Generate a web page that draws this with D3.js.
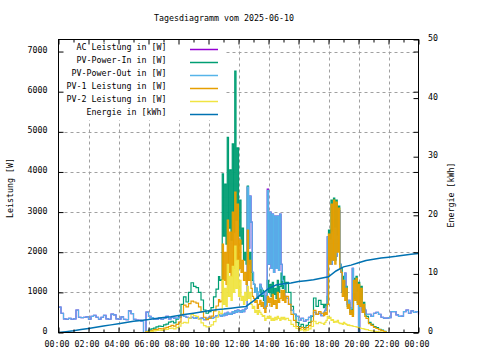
<!DOCTYPE html>
<html><head><meta charset="utf-8">
<script src="https://cdn.jsdelivr.net/npm/d3@7"></script>
<style>
body{margin:0;background:#fff}
svg{display:block}
text{font-family:"DejaVu Sans Mono",monospace;font-size:8.3px;fill:#000}
</style>
</head><body>
<svg id="c" width="480" height="360"></svg>
<script>
const title = "Tagesdiagramm vom 2025-06-10";
const yLabel = "Leistung [W]";
const y2Label = "Energie [kWh]";
const seriesNames = ["AC Leistung in [W]","PV-Power-In in [W]","PV-Power-Out in [W]","PV-1 Leistung in [W]","PV-2 Leistung in [W]","Energie in [kWh]"];
const seriesColors = ["#9400d3","#009e73","#56b4e9","#e69f00","#f0e442","#0072b2"];
const xTickMinutes = [0,120,240,360,480,600,720,840,960,1080,1200,1320,1440];
const xTickLabels = ["00:00","02:00","04:00","06:00","08:00","10:00","12:00","14:00","16:00","18:00","20:00","22:00","00:00"];
const yTicks = [0,1000,2000,3000,4000,5000,6000,7000];
const y2Ticks = [0,10,20,30,40,50];

// sample times (minutes after midnight): 10-min steps, 5-min steps in the busy periods
const sampleMinutes = [
  ...d3.range(0, 640, 10),      // 00:00-10:30
  ...d3.range(640, 915, 5),     // 10:40-15:10
  ...d3.range(920, 1060, 10),   // 15:20-17:30
  ...d3.range(1060, 1235, 5),   // 17:40-20:30
  ...d3.range(1240, 1441, 10)   // 20:40-24:00
];

const pvPowerOut = [
630,480,340,330,350,330,340,560,380,370,380,390,
330,400,430,380,330,380,430,340,330,460,440,340,
330,390,330,320,540,470,330,310,300,280,0,510,
400,370,340,330,360,330,360,400,340,380,360,350,
380,440,400,380,360,380,350,370,340,360,320,350,
380,350,380,420,
440,420,400,450,420,480,440,500,460,480,450,520,480,540,500,560,520,540,500,560,
520,580,600,3620,2100,3400,2750,1500,1200,1000,1100,900,1000,1200,1100,950,1000,600,900,3540,
1700,3000,1600,2950,1500,2900,1600,2900,1550,2950,1700,1300,1200,900,850,
700,550,450,400,300,350,280,320,380,420,500,450,480,420,
500,550,650,2380,1900,2300,1700,2500,1800,2600,1900,2400,3040,1700,1500,1000,1300,1480,
900,700,800,500,600,1600,1000,1200,800,1000,0,700,800,500,600,560,450,
450,400,480,500,450,380,360,360,370,520,520,440,400,410,520,560,480,540,500,520,450];

const acLeistung = [
630,480,340,330,350,330,340,560,380,370,380,390,
330,400,430,380,330,380,430,340,330,460,440,340,
330,390,330,320,540,470,330,310,300,280,0,510,
400,370,340,330,360,330,360,400,340,380,360,350,
380,440,400,380,360,380,350,370,340,360,320,350,
380,350,380,420,
440,420,400,450,420,480,440,500,460,480,450,520,480,540,500,560,520,540,500,560,
520,580,600,3620,2100,3400,2750,1500,1200,1000,1100,900,1000,1200,1100,950,1000,600,900,3570,
1700,3000,1600,2950,1500,2900,1600,2900,1550,2950,1700,1300,1200,900,850,
700,550,450,400,300,350,280,320,380,420,500,450,480,420,
500,550,650,2380,1900,2300,1700,2500,1800,2600,1900,2400,3040,1700,1500,1000,1300,1480,
900,700,800,500,600,1600,1000,1200,800,1000,0,700,800,500,600,560,450,
450,400,480,500,450,380,360,360,370,520,520,440,400,410,520,560,480,540,500,520,450];

const pvPowerIn = [
0,0,0,0,0,0,0,0,0,0,0,0,
0,0,0,0,0,0,0,0,0,0,0,0,
0,0,0,0,0,0,0,0,0,0,0,30,
60,90,110,140,160,150,190,210,260,280,240,330,
420,700,890,760,1000,1240,1150,1120,1000,810,560,480,
520,620,890,1080,
1390,1300,1310,3950,2400,3700,2200,4860,2600,4050,2300,4700,2500,6510,2800,4600,2400,3300,2200,2600,
1800,2000,1700,3650,1700,2000,1500,1300,1200,1000,1100,850,1000,1150,900,1050,800,700,900,1300,
1000,1200,900,1250,950,1100,850,1300,1000,1150,1480,1100,1400,1000,1250,
1000,650,450,250,150,200,120,180,250,400,860,650,800,700,
620,700,650,900,2550,1800,3300,1900,3350,1800,3300,2100,3150,1700,1600,1000,1400,900,
1150,650,750,500,600,450,1350,850,1400,750,1250,700,1150,550,750,450,400,
250,200,150,120,80,60,30,0,0,0,0,0,0,0,0,0,0,0,0,0,0];

const pv1Leistung = [
0,0,0,0,0,0,0,0,0,0,0,0,
0,0,0,0,0,0,0,0,0,0,0,0,
0,0,0,0,0,0,0,0,0,0,0,20,
30,50,70,80,100,90,110,130,150,180,160,200,
260,450,680,640,720,780,760,730,640,520,380,320,
350,410,540,660,
820,760,780,2200,1300,2000,1200,2800,1500,2500,1400,3000,1600,3500,1800,3200,1600,2300,1500,1800,
1300,1500,1200,2550,1300,1800,1100,900,850,750,800,600,700,800,650,750,600,500,650,900,
750,850,650,950,700,800,600,1000,750,850,1050,800,1050,750,900,
700,450,300,150,100,130,80,120,170,280,550,450,520,480,
420,500,450,700,2450,1700,3200,1800,3300,1700,3250,2000,3100,1600,1500,900,1300,800,
1100,600,700,450,550,400,1300,800,1350,700,1200,650,1100,500,700,400,350,
220,180,130,100,70,50,25,0,0,0,0,0,0,0,0,0,0,0,0,0,0];

const pv2Leistung = [
0,0,0,0,0,0,0,0,0,0,0,0,
0,0,0,0,0,0,0,0,0,0,0,0,
0,0,0,0,0,0,0,0,0,0,0,10,
20,30,40,50,60,50,70,80,100,110,90,120,
160,230,250,240,360,450,420,400,330,240,170,140,
150,190,270,380,
520,480,470,1300,700,1100,650,1700,900,1400,800,1650,1000,2150,1100,1800,900,1300,800,900,
700,1000,800,1150,850,1000,700,600,650,500,550,450,550,500,450,400,420,300,350,400,
350,400,300,350,300,380,320,400,350,300,380,330,380,320,350,
300,200,150,100,60,70,40,60,90,150,280,220,250,230,
200,250,300,400,350,380,300,320,250,280,260,300,240,220,230,200,250,220,
200,180,190,170,170,160,150,150,140,130,120,110,100,95,90,80,70,
50,40,30,20,15,10,5,0,0,0,0,0,0,0,0,0,0,0,0,0,0];

// 30-minute samples 00:00 .. 24:00
const energyMinutes = d3.range(0, 1441, 30);
const energie = [
0,0.15,0.3,0.5,0.7,0.9,1.1,1.3,1.5,1.7,1.9,2.05,2.2,
2.4,2.55,2.7,2.9,3.1,3.3,3.5,3.7,3.9,4.0,4.15,4.3,
4.45,5.4,6.5,7.5,8.1,8.3,8.45,8.7,8.85,9.0,9.25,9.5,
10.5,11.2,11.5,11.9,12.3,12.5,12.7,12.85,13.0,13.2,13.35,13.5];

const L = 58.5, R = 418.5, T = 39.5, B = 332.5;
const svg = d3.select("#c");
const x = d3.scaleLinear().domain([0,1440]).range([L,R]);
const y = d3.scaleLinear().domain([0,7300]).range([B,T]);
const y2 = d3.scaleLinear().domain([0,50]).range([B,T]);

// grid
const grid = svg.append("g").attr("stroke","#a0a0a0").attr("stroke-width",1).attr("stroke-dasharray","3,3");
xTickMinutes.slice(1,-1).forEach(m=>{
  grid.append("line").attr("x1",Math.round(x(m))+0.5).attr("x2",Math.round(x(m))+0.5).attr("y1",T).attr("y2",B);
});
yTicks.slice(1).forEach(v=>{
  grid.append("line").attr("x1",L).attr("x2",R).attr("y1",Math.round(y(v))+0.5).attr("y2",Math.round(y(v))+0.5);
});

// legend background (opaque key)
svg.append("rect").attr("x",L+0.5).attr("y",T+0.5).attr("width",166).attr("height",80).attr("fill","#fff");

// data
const powerSeries = [acLeistung, pvPowerIn, pvPowerOut, pv1Leistung, pv2Leistung];
const plot = svg.append("g");
powerSeries.forEach((vals,i)=>{
  const ln = d3.line().curve(d3.curveStepAfter).x((d,j)=>x(sampleMinutes[j])).y(d=>y(d));
  plot.append("path")
    .attr("d", ln(vals))
    .attr("fill","none").attr("stroke",seriesColors[i]).attr("stroke-width",1.2);
});
plot.append("path")
  .attr("d", d3.line().x((d,j)=>x(energyMinutes[j])).y(d=>y2(d))(energie))
  .attr("fill","none").attr("stroke",seriesColors[5]).attr("stroke-width",1.5);

// axes
const ax = svg.append("g");
const gL = ax.append("g").attr("transform",`translate(${L},0)`)
  .call(d3.axisLeft(y).tickValues(yTicks).tickSize(-5).tickPadding(11).tickFormat(d3.format("d")));
ax.append("g").attr("transform",`translate(${R},0)`)
  .call(d3.axisLeft(y).tickValues(yTicks).tickSize(5).tickFormat(""));
const gR2 = ax.append("g").attr("transform",`translate(${R},0)`)
  .call(d3.axisRight(y2).tickValues(y2Ticks).tickSize(-5).tickPadding(10).tickFormat(d3.format("d")));
const gB = ax.append("g").attr("transform",`translate(0,${B})`)
  .call(d3.axisBottom(x).tickValues(xTickMinutes).tickSize(-5).tickFormat((d,i)=>xTickLabels[i]));
ax.append("g").attr("transform",`translate(0,${T})`)
  .call(d3.axisTop(x).tickValues(xTickMinutes).tickSize(-5).tickFormat(""));
const minorHours = d3.range(60,1440,120);
ax.append("g").attr("transform",`translate(0,${B})`)
  .call(d3.axisBottom(x).tickValues(minorHours).tickSize(-3).tickFormat(""));
ax.append("g").attr("transform",`translate(0,${T})`)
  .call(d3.axisTop(x).tickValues(minorHours).tickSize(-3).tickFormat(""));
ax.selectAll(".domain").remove();
ax.selectAll(".tick line").attr("stroke","#000");
ax.selectAll("text").attr("font-family",null).attr("font-size",null).attr("fill","#000");
gL.selectAll("text").attr("dy","1px");
gR2.selectAll("text").attr("dy","1px").attr("x",9.5);
gB.selectAll("text").attr("dy",null).attr("y",14.5).attr("x",-2);

// border
svg.append("rect").attr("x",L).attr("y",T).attr("width",R-L).attr("height",B-T)
  .attr("fill","none").attr("stroke","#000").attr("stroke-width",1);

// legend
const key = svg.append("g");
seriesNames.forEach((n,i)=>{
  const by = 50 + i*13;
  key.append("text").attr("x",166.5).attr("y",by).attr("text-anchor","end").text(n);
  key.append("line").attr("x1",190).attr("x2",218).attr("y1",by-0.5).attr("y2",by-0.5)
    .attr("stroke",seriesColors[i]).attr("stroke-width",1.5);
});

// titles
svg.append("text").attr("x",224).attr("y",21).attr("text-anchor","middle").text(title);
svg.append("text").attr("transform","translate(12.5,188) rotate(-90)").attr("text-anchor","middle").text(yLabel);
svg.append("text").attr("transform","translate(454,195) rotate(-90)").attr("text-anchor","middle").text(y2Label);
</script>
</body></html>
